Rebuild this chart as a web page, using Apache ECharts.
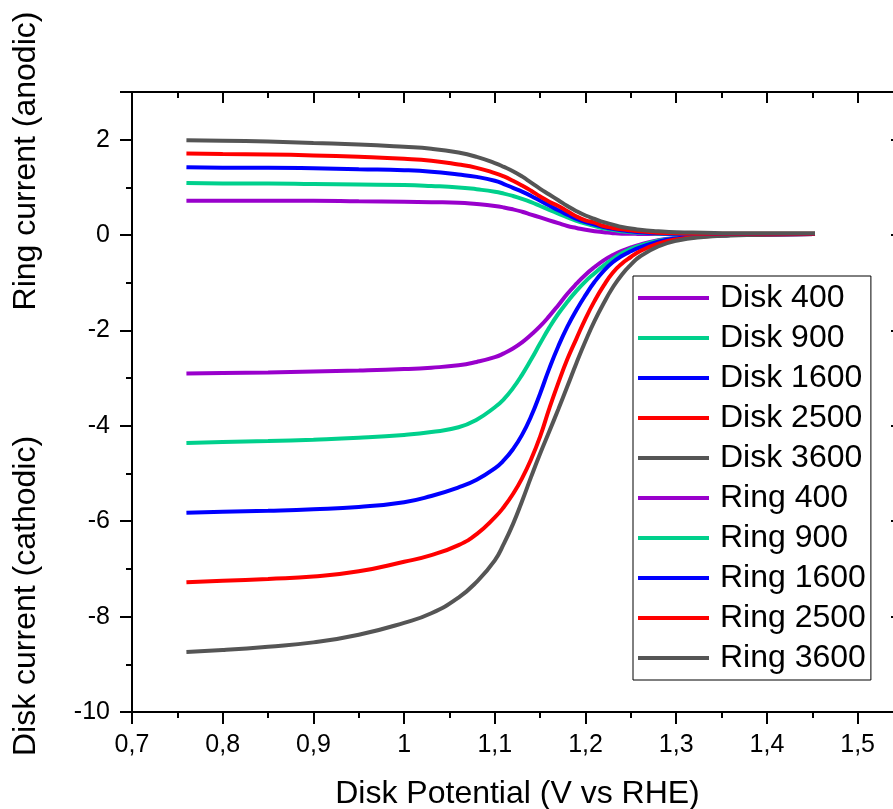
<!DOCTYPE html>
<html>
<head>
<meta charset="utf-8">
<title>RRDE disk and ring currents</title>
<script src="https://cdn.jsdelivr.net/npm/echarts@6/dist/echarts.min.js"></script>
<style>
  html, body { margin: 0; padding: 0; background: #fff; }
  #chart { width: 893px; height: 809px; }
</style>
</head>
<body>
<div id="chart"></div>
<script>
// Disk potential (V vs RHE) shared by every sweep
const potential = [0.76, 0.80, 0.85, 0.90, 0.95, 1.00, 1.03, 1.06, 1.08, 1.10, 1.11, 1.12, 1.13, 1.14,
  1.15, 1.16, 1.17, 1.18, 1.19, 1.20, 1.21, 1.22, 1.23, 1.24, 1.25, 1.26, 1.28, 1.30, 1.33, 1.36, 1.40, 1.453];

// Disk currents (cathodic) at 400 / 900 / 1600 / 2500 / 3600 rpm
const disk400 = [-2.90, -2.89, -2.88, -2.86, -2.84, -2.81, -2.78, -2.73, -2.66, -2.56, -2.48, -2.38, -2.25, -2.09,
  -1.91, -1.70, -1.47, -1.23, -1.02, -0.83, -0.67, -0.53, -0.42, -0.33, -0.26, -0.20, -0.11, -0.06, -0.02, 0.00, 0.01, 0.02];
const disk900 = [-4.36, -4.34, -4.32, -4.29, -4.25, -4.19, -4.13, -4.03, -3.87, -3.61, -3.44, -3.21, -2.93, -2.61,
  -2.27, -1.94, -1.65, -1.40, -1.17, -0.97, -0.80, -0.64, -0.50, -0.38, -0.29, -0.22, -0.12, -0.06, -0.02, 0.00, 0.01, 0.02];
const disk1600 = [-5.82, -5.80, -5.78, -5.75, -5.70, -5.60, -5.47, -5.29, -5.13, -4.89, -4.72, -4.49, -4.19, -3.80,
  -3.32, -2.80, -2.33, -1.92, -1.57, -1.26, -0.98, -0.75, -0.57, -0.44, -0.34, -0.26, -0.14, -0.07, -0.02, 0.00, 0.01, 0.02];
const disk2500 = [-7.28, -7.25, -7.21, -7.16, -7.05, -6.85, -6.71, -6.50, -6.27, -5.92, -5.70, -5.43, -5.10, -4.70,
  -4.22, -3.64, -3.10, -2.60, -2.17, -1.75, -1.38, -1.06, -0.79, -0.60, -0.46, -0.34, -0.18, -0.09, -0.03, 0.00, 0.01, 0.02];
const disk3600 = [-8.74, -8.70, -8.63, -8.54, -8.38, -8.13, -7.93, -7.60, -7.27, -6.82, -6.47, -6.06, -5.58, -5.07,
  -4.58, -4.12, -3.65, -3.17, -2.68, -2.22, -1.80, -1.43, -1.10, -0.83, -0.62, -0.45, -0.24, -0.12, -0.04, -0.01, 0.01, 0.02];

// Ring currents (anodic) at the same rotation rates
const ring400 = [0.72, 0.72, 0.72, 0.72, 0.71, 0.70, 0.69, 0.68, 0.65, 0.61, 0.58, 0.54, 0.49, 0.43,
  0.37, 0.31, 0.25, 0.19, 0.15, 0.11, 0.08, 0.06, 0.04, 0.03, 0.03, 0.02, 0.02, 0.02, 0.02, 0.02, 0.02, 0.02];
const ring900 = [1.09, 1.08, 1.08, 1.07, 1.06, 1.05, 1.03, 1.00, 0.96, 0.91, 0.87, 0.82, 0.76, 0.69,
  0.61, 0.53, 0.45, 0.37, 0.30, 0.24, 0.19, 0.14, 0.11, 0.08, 0.06, 0.05, 0.03, 0.02, 0.02, 0.02, 0.02, 0.02];
const ring1600 = [1.42, 1.41, 1.41, 1.40, 1.38, 1.36, 1.33, 1.27, 1.22, 1.14, 1.07, 0.99, 0.91, 0.82,
  0.72, 0.62, 0.52, 0.43, 0.34, 0.27, 0.22, 0.17, 0.13, 0.10, 0.08, 0.06, 0.04, 0.03, 0.03, 0.02, 0.02, 0.02];
const ring2500 = [1.71, 1.70, 1.69, 1.67, 1.64, 1.60, 1.56, 1.48, 1.41, 1.30, 1.23, 1.14, 1.04, 0.93,
  0.81, 0.70, 0.61, 0.50, 0.39, 0.31, 0.26, 0.19, 0.15, 0.12, 0.10, 0.08, 0.05, 0.04, 0.03, 0.03, 0.03, 0.03];
const ring3600 = [1.99, 1.98, 1.96, 1.93, 1.90, 1.85, 1.81, 1.73, 1.64, 1.51, 1.43, 1.34, 1.23, 1.10,
  0.97, 0.85, 0.73, 0.61, 0.50, 0.41, 0.34, 0.27, 0.22, 0.17, 0.14, 0.11, 0.08, 0.06, 0.05, 0.04, 0.04, 0.04];

const seriesNames = ['Disk 400', 'Disk 900', 'Disk 1600', 'Disk 2500', 'Disk 3600',
  'Ring 400', 'Ring 900', 'Ring 1600', 'Ring 2500', 'Ring 3600'];
const seriesValues = [disk400, disk900, disk1600, disk2500, disk3600,
  ring400, ring900, ring1600, ring2500, ring3600];
const rpmColors = ['#9900CC', '#00D08C', '#0000FF', '#FF0000', '#555555'];

// Tick labels (decimal comma)
const xTickValues = [0.7, 0.8, 0.9, 1.0, 1.1, 1.2, 1.3, 1.4, 1.5];
const xTickLabels = ['0,7', '0,8', '0,9', '1', '1,1', '1,2', '1,3', '1,4', '1,5'];
const yTickValues = [-10, -8, -6, -4, -2, 0, 2];
const yTickLabels = ['-10', '-8', '-6', '-4', '-2', '0', '2'];

const FONT = '"Liberation Sans", Arial, Helvetica, sans-serif';

function xLabel(v) {
  const i = xTickValues.findIndex(t => Math.abs(t - v) < 1e-6);
  return i < 0 ? '' : xTickLabels[i];
}
function yLabel(v) {
  const i = yTickValues.findIndex(t => Math.abs(t - v) < 1e-6);
  return i < 0 ? '' : yTickLabels[i];
}

const series = seriesNames.map((name, k) => ({
  name: name,
  type: 'line',
  xAxisIndex: 0,
  yAxisIndex: 0,
  data: potential.map((e, i) => [e, seriesValues[k][i]]),
  smooth: 0.5,
  symbol: 'none',
  showSymbol: false,
  lineStyle: { width: 4, color: rpmColors[k % 5] },
  itemStyle: { color: rpmColors[k % 5] },
  emphasis: { disabled: true }
}));

const axisLine = { show: true, onZero: false, lineStyle: { color: '#000', width: 2 } };

const option = {
  animation: false,
  backgroundColor: '#fff',
  grid: { left: 132, top: 92, width: 771, height: 620, containLabel: false, outerBoundsMode: 'none' },
  xAxis: [
    {
      type: 'value', position: 'bottom', min: 0.7, max: 1.55, interval: 0.1,
      axisLine: axisLine,
      axisTick: { show: true, inside: false, length: 12, lineStyle: { color: '#000', width: 2 } },
      minorTick: { show: true, splitNumber: 2, length: 6, lineStyle: { color: '#000', width: 2 } },
      splitLine: { show: false },
      axisLabel: { show: true, margin: 21, formatter: xLabel, showMaxLabel: false,
        color: '#000', fontSize: 25, fontFamily: FONT },
      name: 'Disk Potential (V vs RHE)', nameLocation: 'middle', nameGap: 66,
      nameTextStyle: { color: '#000', fontSize: 32, fontFamily: FONT }
    },
    {
      type: 'value', position: 'top', min: 0.7, max: 1.55, interval: 0.1,
      axisLine: axisLine,
      axisTick: { show: true, inside: true, length: 11, lineStyle: { color: '#000', width: 2 } },
      minorTick: { show: true, splitNumber: 2, length: 6, lineStyle: { color: '#000', width: 2 } },
      splitLine: { show: false },
      axisLabel: { show: false }
    }
  ],
  yAxis: [
    {
      type: 'value', position: 'left', min: -10, max: 3, interval: 2,
      axisLine: axisLine,
      axisTick: { show: true, inside: false, length: 12, lineStyle: { color: '#000', width: 2 } },
      minorTick: { show: true, splitNumber: 2, length: 6, lineStyle: { color: '#000', width: 2 } },
      splitLine: { show: false },
      axisLabel: { show: true, margin: 22, formatter: yLabel, showMaxLabel: false,
        color: '#000', fontSize: 25, fontFamily: FONT }
    },
    {
      type: 'value', position: 'right', min: -10, max: 3, interval: 2,
      axisLine: axisLine,
      axisTick: { show: true, inside: true, length: 12, lineStyle: { color: '#000', width: 2 } },
      minorTick: { show: true, splitNumber: 2, length: 6, lineStyle: { color: '#000', width: 2 } },
      splitLine: { show: false },
      axisLabel: { show: false }
    }
  ],
  legend: {
    data: seriesNames,
    orient: 'vertical',
    left: 633, top: 276,
    padding: [6, 5, 6, 5],
    backgroundColor: '#fff',
    borderColor: '#000', borderWidth: 1,
    icon: 'rect', itemWidth: 71, itemHeight: 4, itemGap: 8,
    selectedMode: false,
    textStyle: { color: '#000', fontSize: 32, lineHeight: 32, fontFamily: FONT, padding: [0, 0, 0, 6] }
  },
  graphic: [
    {
      type: 'text', x: 26, y: 161, rotation: Math.PI / 2, silent: true,
      style: { text: 'Ring current (anodic)', fontSize: 32, fontFamily: FONT, fill: '#000',
        align: 'center', verticalAlign: 'middle' }
    },
    {
      type: 'text', x: 26, y: 596, rotation: Math.PI / 2, silent: true,
      style: { text: 'Disk current (cathodic)', fontSize: 32, fontFamily: FONT, fill: '#000',
        align: 'center', verticalAlign: 'middle' }
    }
  ],
  series: series
};

const chart = echarts.init(document.getElementById('chart'), null, { renderer: 'canvas' });
chart.setOption(option);
</script>
</body>
</html>
